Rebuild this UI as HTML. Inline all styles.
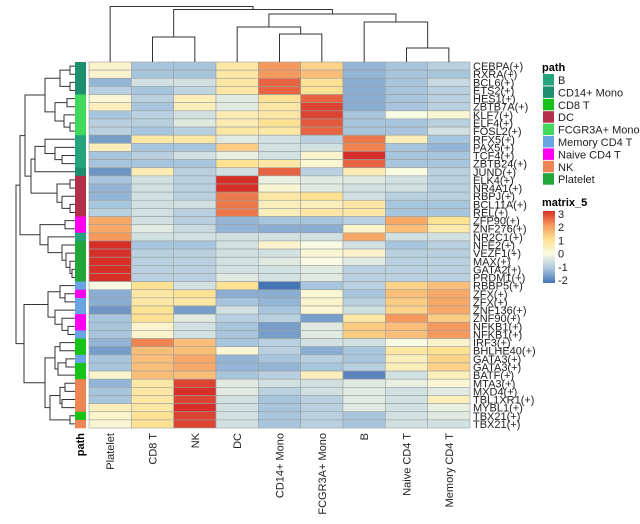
<!DOCTYPE html>
<html><head><meta charset="utf-8"><style>
body{margin:0;background:#fff;width:640px;height:519px;overflow:hidden;font-family:"Liberation Sans",sans-serif}
svg text{font-family:"Liberation Sans",sans-serif}
</style></head><body>
<svg id="chart" width="640" height="519" xmlns="http://www.w3.org/2000/svg"></svg>
<script>
const columns=["Platelet","CD8 T","NK","DC","CD14+ Mono","FCGR3A+ Mono","B","Naive CD4 T","Memory CD4 T"];
const rowLabels=["CEBPA(+)","RXRA(+)","BCL6(+)","ETS2(+)","HES1(+)","ZBTB7A(+)","KLF7(+)","ELF4(+)","FOSL2(+)","RFX5(+)","PAX5(+)","TCF4(+)","ZBTB24(+)","JUND(+)","ELK4(+)","NR4A1(+)","RBPJ(+)","BCL11A(+)","REL(+)","ZFP90(+)","ZNF276(+)","NR2C1(+)","NFE2(+)","VEZF1(+)","MAX(+)","GATA2(+)","PRDM1(+)","RBBP5(+)","ZFX(+)","ZFX(+)","ZNF136(+)","ZNF90(+)","NFKB1(+)","NFKB1(+)","IRF3(+)","BHLHE40(+)","GATA3(+)","GATA3(+)","BATF(+)","MTA3(+)","MXD4(+)","TBL1XR1(+)","MYBL1(+)","TBX21(+)","TBX21(+)"];
const rowPath=["CD14+ Mono","CD14+ Mono","CD14+ Mono","CD14+ Mono","FCGR3A+ Mono","FCGR3A+ Mono","FCGR3A+ Mono","FCGR3A+ Mono","FCGR3A+ Mono","B","B","B","B","CD14+ Mono","DC","DC","DC","DC","DC","Naive CD4 T","Naive CD4 T","B","Platelet","Platelet","Platelet","Platelet","Platelet","Memory CD4 T","Naive CD4 T","Memory CD4 T","Memory CD4 T","Naive CD4 T","Naive CD4 T","Memory CD4 T","CD8 T","CD8 T","Memory CD4 T","CD8 T","CD8 T","NK","NK","NK","NK","CD8 T","NK"];
const values=[
[0.3,-1,-1,0.8,2,1.2,-1.2,-1,-0.8],
[0.3,-1,-1,0.8,2,1.5,-1.2,-1,-1],
[-1.2,-0.5,-0.5,0.8,2.5,1,-1.3,-1,-0.6],
[-0.8,-1,-0.7,0.8,2.5,1,-1.3,-1,-0.8],
[0.2,-0.8,0.5,-0.3,1,2.5,-1.3,-1,-0.8],
[0.5,-1,0.5,-0.3,0.8,2.8,-1.3,-1,-0.8],
[-1,-0.8,-0.5,0.6,0.8,2.8,-1,0,0.2],
[-0.8,-0.8,-0.3,0.6,1,2.6,-1,-1,-0.8],
[-0.8,-1,-0.8,0.8,0.8,2.5,-1,-1,-0.5],
[-1.5,0.8,0.8,-0.3,-0.5,-0.8,2.3,0.5,-1],
[0.5,-1,-1,1.3,-0.5,-0.5,2.2,-1,-1.2],
[-1,-0.8,-0.5,-0.2,-0.5,0.3,3,-1,-1],
[-1,-1,-1,1,0.8,0.2,2.5,-1,-1],
[-1.6,0.6,-0.8,-0.5,2.5,-0.8,0.6,0,-0.8],
[-1,-0.5,-0.8,3,-0.2,-0.3,-0.3,-0.5,-0.8],
[-1.2,-0.5,-0.8,3,0.2,-0.3,-0.5,-0.5,-0.8],
[-1.2,-0.5,-0.8,2.3,0.8,1,-0.5,-0.8,-0.8],
[-1,-0.5,-0.5,2.3,0.5,0.5,0.8,-1,-1],
[-0.8,-0.5,-0.8,2.3,0.5,0.8,0.8,-1,-1],
[1.8,-0.5,-0.8,-1.2,-1,-1,-0.8,1.8,1],
[1.8,-0.3,-0.6,-1.2,-1.3,-1.3,0.3,1.5,0.7],
[2,-0.5,-0.5,-0.5,-0.5,-0.5,1.8,-0.5,-0.5],
[3,-1,-1,-0.5,0.3,0,-0.5,-1,-0.8],
[3,-0.8,-0.8,-0.5,-0.5,0.2,0.3,-0.8,-0.8],
[3,-0.8,-0.8,-0.5,-0.3,0,-0.3,-0.8,-0.8],
[3,-0.8,-0.8,-0.5,-0.5,-0.3,-0.8,-0.8,-0.8],
[3,-0.8,-0.8,-0.3,-0.5,-0.3,-0.8,-0.8,-0.8],
[0,1,-0.5,1,-2.2,-1,-0.8,1.2,1.5],
[-1.3,0.8,1,-1.3,-1.3,0.2,-1,1.5,1.8],
[-1.3,0.8,0.8,-1,-1.2,0.3,-0.8,1.3,1.8],
[-1.6,1,-1.5,-0.5,-1,0.2,-0.5,1.2,1.8],
[-1,1,-0.3,-0.8,-0.8,-1.5,0.8,2,1.3],
[-1,0.3,-0.5,-1,-1.5,-0.3,1.3,1.5,2],
[-1,0.3,-0.5,-1,-1.5,-0.3,1.3,1.5,2],
[-1.2,2.2,1.5,-1,-0.8,-0.5,-0.5,0,0.3],
[-1.5,1.5,1.5,0.2,-0.8,-1.3,-1,0.8,1],
[-1,1.5,1.8,-1.2,-1,-0.8,-1,0.5,1.2],
[-1,1.5,1.8,-1.2,-1.2,-1,-0.8,0.5,1.2],
[0.3,1.5,1.5,-1,-0.8,0.5,-1.8,-0.5,0.5],
[-1.2,0.8,2.8,-0.3,-0.5,-0.5,-0.3,-0.2,0.2],
[-1,0.8,3,-0.3,-0.8,-0.5,-0.3,-0.5,-0.3],
[-1,0.8,2.8,-0.5,-1,-0.8,-0.3,-0.5,0.5],
[0.5,0.8,3,-0.5,-1,-0.8,-0.3,-0.5,-0.2],
[0.3,1,2.8,-0.5,-1,-0.8,-1,-0.5,-0.3],
[0.2,1,2.8,-0.5,-1,-0.8,-1,-0.5,-0.5]];
const pathNames=["B","CD14+ Mono","CD8 T","DC","FCGR3A+ Mono","Memory CD4 T","Naive CD4 T","NK","Platelet"];
const pathColors=["#23a47e","#1d8f6e","#16c417","#b2304a","#41d85c","#6aa5e3","#ff00f0","#ee8555","#21a63a"];
const legendTicks=[3,2,1,0,-1,-2];
// column dendrogram: [height(y), left, right]; leaves = column index
const colTree=[6.5,0,[9.5,[37,1,2],[14,[27,3,[34,4,5]],[22,6,[48,7,8]]]]];
// row dendrogram: [height(x), left, right]; leaves = row index
const rowTree=[16,[20,[25,[45,[60,[70,0,1],[70,2,3]],[55,[67,4,5],[64,6,[70,7,8]]]],[31,[35,[45,9,[55,10,[62,11,12]]],13],[57,[70,14,15],[62,16,[70,17,18]]]]],[40,[65,19,20],[48,21,[62,22,[66,23,[70,24,[72,25,26]]]]]]],[24,[48,[60,27,[65,28,29]],[55,30,[62,31,[68,32,33]]]],[45,[55,[60,34,35],[58,[66,36,37],38]],[50,[60,[65,39,40],[62,41,42]],[70,43,44]]]]];

const NS="http://www.w3.org/2000/svg";
const svg=document.getElementById('chart');
const X0=89,X1=470,Y0=62,Y1=428;
const cw=(X1-X0)/columns.length, rh=(Y1-Y0)/rowLabels.length;
const xOf=i=>X0+i*cw, yOf=i=>Y0+i*rh;
function mk(t,a,p){const e=document.createElementNS(NS,t);for(const k in a)e.setAttribute(k,a[k]);(p||svg).appendChild(e);return e;}
const stops=[[-2,[69,117,180]],[-1,[168,197,222]],[0,[249,250,226]],[1,[254,226,148]],[2,[246,153,92]],[3,[214,47,39]]];
function color(v){v=Math.max(-2,Math.min(3,v));for(let i=0;i<stops.length-1;i++){const[a,ca]=stops[i],[b,cb]=stops[i+1];if(v<=b){const t=(v-a)/(b-a);return'rgb('+ca.map((c,j)=>Math.round(c+(cb[j]-c)*t)).join(',')+')';}}return'rgb(214,47,39)';}

const cells=mk('g',{});


values.forEach((row,r)=>row.forEach((v,c)=>{
  const e=mk('rect',{x:xOf(c),y:yOf(r),width:cw,height:rh,fill:color(v),stroke:'#9aa0a0','stroke-width':0.6},cells);
  
  
}));
// annotation
rowPath.forEach((p,r)=>{
  const e=mk('rect',{x:75,y:yOf(r),width:11,height:rh+0.3,fill:pathColors[pathNames.indexOf(p)]});
  
  
});
// row labels
rowLabels.forEach((l,r)=>{
  const t=mk('text',{x:473,y:yOf(r)+rh/2+4,'font-size':11,fill:'#222'});t.textContent=l;
  
  
});
// column labels
columns.forEach((l,c)=>{
  const cx=xOf(c)+cw/2+4;
  const t=mk('text',{x:cx,y:433,'font-size':11,fill:'#222','text-anchor':'end',transform:'rotate(-90 '+cx+' 433)'});t.textContent=l;
  
  
});
const pl=mk('text',{x:84,y:433,'font-size':11,'font-weight':'bold','text-anchor':'end',transform:'rotate(-90 84 433)'});pl.textContent='path';


// dendrograms
const dg=mk('g',{stroke:'#333','stroke-width':1,fill:'none'});


function colD(n){if(typeof n==='number')return{x:xOf(n)+cw/2,y:Y0};const a=colD(n[1]),b=colD(n[2]),h=n[0];
  mk('path',{d:`M${a.x},${a.y}V${h}H${b.x}V${b.y}`},dg);return{x:(a.x+b.x)/2,y:h};}
colD(colTree);
function rowD(n){if(typeof n==='number')return{y:yOf(n)+rh/2,x:75};const a=rowD(n[1]),b=rowD(n[2]),h=n[0];
  mk('path',{d:`M${a.x},${a.y}H${h}V${b.y}H${b.x}`},dg);return{y:(a.y+b.y)/2,x:h};}
rowD(rowTree);
// legend
const lt=mk('text',{x:542,y:71,'font-size':11,'font-weight':'bold'});lt.textContent='path';

pathNames.forEach((p,i)=>{
  const y=74+i*12.4;
  const g=mk('g',{});
  
  
  mk('rect',{x:543,y:y,width:11,height:11.5,fill:pathColors[i]},g);
  const t=mk('text',{x:558,y:y+10,'font-size':11,fill:'#222'},g);t.textContent=p;
});
const mt=mk('text',{x:542,y:206,'font-size':11,'font-weight':'bold'});mt.textContent='matrix_5';

const defs=mk('defs',{});const gr=mk('linearGradient',{id:'cb',x1:0,y1:0,x2:0,y2:1},defs);
for(let i=0;i<=20;i++){const v=3-5*i/20;mk('stop',{offset:i/20,'stop-color':color(v)},gr);}
const cb=mk('rect',{x:543,y:211,width:12,height:72,fill:'url(#cb)'});

legendTicks.forEach(v=>{
  const y=214+(3-v)*13.2;
  const t=mk('text',{x:558,y:y+4,'font-size':11,fill:'#222'});t.textContent=v;
  
  
});
</script>
</body></html>
